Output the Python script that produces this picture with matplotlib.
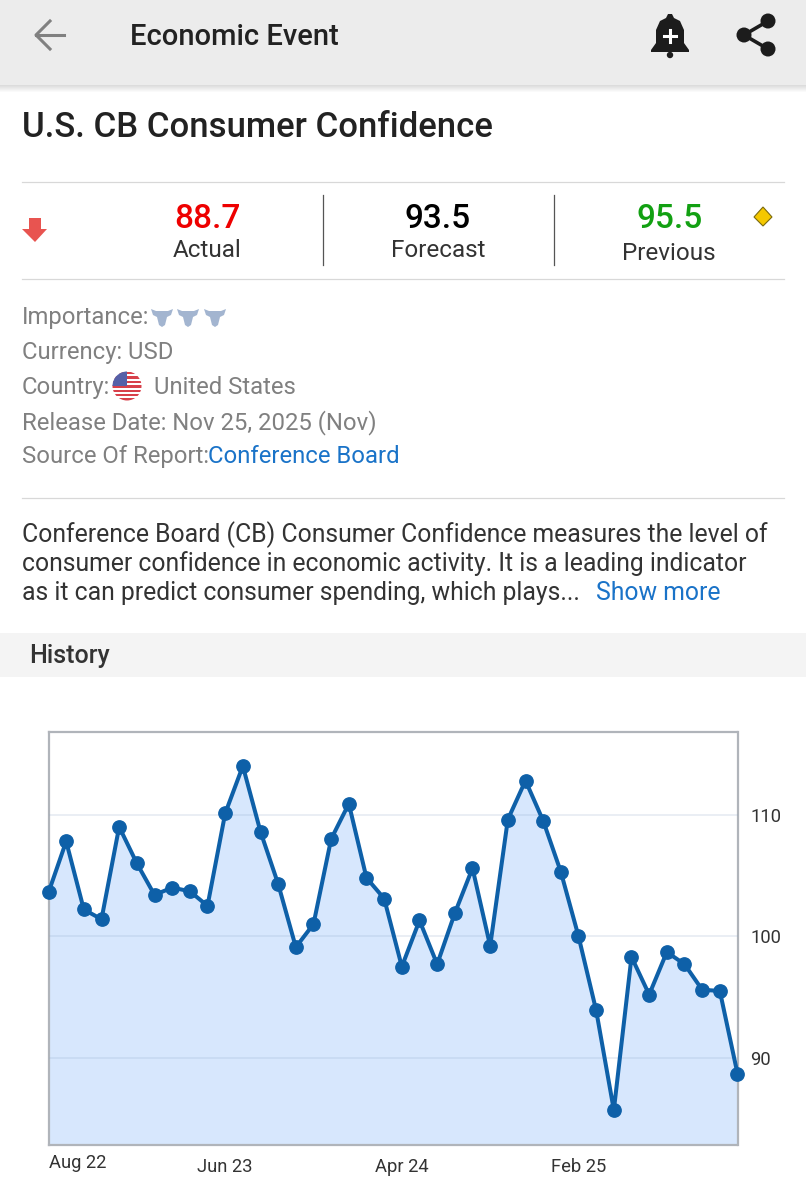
import matplotlib
matplotlib.use("Agg")
import matplotlib.pyplot as plt
import numpy as np
from matplotlib.patches import Circle, Polygon, Rectangle, FancyBboxPatch

plt.rcParams['font.family'] = ['Roboto', 'DejaVu Sans']

# dados
values = [103.6, 107.8, 102.2, 101.4, 109.0, 106.0, 103.4, 104.0, 103.7, 102.5,
          110.1, 114.0, 108.6, 104.3, 99.1, 101.0, 108.0, 110.9, 104.8, 103.1,
          97.5, 101.3, 97.7, 101.9, 105.6, 99.2, 109.6, 112.8, 109.5, 105.3,
          100.0, 93.9, 85.7, 98.3, 95.2, 98.7, 97.7, 95.6, 95.5, 88.7]
tick_idx = [10, 20, 30]
tick_labels = ["Jun 23", "Apr 24", "Feb 25"]
first_label = "Aug 22"
y_ticks = [90, 100, 110]

W, H = 806, 1192
fig = plt.figure(figsize=(W / 100, H / 100), dpi=100, facecolor="white")

# camada da interface, em pixels
ui = fig.add_axes([0, 0, 1, 1])
ui.set_xlim(0, W)
ui.set_ylim(H, 0)
ui.axis("off")


def txt(x, y, s, size, color="#222222", weight="normal", ha="left"):
    return ui.text(x, y, s, fontsize=size, color=color, fontweight=weight, ha=ha, va="baseline")


# barra superior
ui.add_patch(Rectangle((0, 0), W, 85, color="#ececec", lw=0))
shadow = np.linspace(0.86, 1, 8).reshape(-1, 1)
ui.imshow(shadow, extent=(0, W, 93, 85), cmap="gray", vmin=0, vmax=1, aspect="auto", zorder=1)
ui.set_xlim(0, W)
ui.set_ylim(H, 0)
ui.plot([36, 64], [35, 35], color="#808080", lw=2.2)
ui.plot([50, 36, 50], [21, 35, 49], color="#808080", lw=2.2)
txt(130, 45, "Economic Event", 21, "#222222", "medium")

# sino
bell = Polygon([(651, 50), (656, 43), (656, 30), (660, 21), (666, 18), (668, 14), (672, 14), (674, 18),
                (680, 21), (684, 30), (684, 43), (689, 50), (689, 52), (651, 52)],
               closed=True, color="#1c1c1c", lw=0)
ui.add_patch(bell)
ui.add_patch(Circle((670, 55), 3.2, color="#1c1c1c", lw=0))
ui.plot([664, 676], [36, 36], color="white", lw=2.2)
ui.plot([670, 670], [30, 42], color="white", lw=2.2)

# compartilhar
ui.plot([768, 744, 768], [21, 35, 49], color="#1c1c1c", lw=2.6)
for cx, cy in [(768, 21), (744, 35), (768, 49)]:
    ui.add_patch(Circle((cx, cy), 7.5, color="#1c1c1c", lw=0))

txt(22, 137, "U.S. CB Consumer Confidence", 25, "#222222", "medium")

# bloco de valores
ui.plot([22, 784], [181.5, 181.5], color="#d8d8d8", lw=0.9)
ui.plot([22, 784], [278.5, 278.5], color="#d8d8d8", lw=0.9)
ui.plot([322.5, 322.5], [195, 265], color="#555555", lw=0.9)
ui.plot([553.5, 553.5], [195, 265], color="#555555", lw=0.9)
ui.add_patch(Polygon([(29, 218), (41, 218), (41, 229), (47, 229), (35, 242), (22, 229), (29, 229)],
                     closed=True, color="#e85450", lw=0))
ui.add_patch(Polygon([(763, 207), (772, 217), (763, 226), (754, 217)], closed=True,
                     facecolor="#f5c800", edgecolor="#7a6a10", lw=0.8))
txt(207.5, 228, "88.7", 24, "#ee0000", "medium", "center")
txt(438, 228, "93.5", 24, "#000000", "medium", "center")
txt(670, 228, "95.5", 24, "#12a012", "medium", "center")
txt(207.5, 257, "Actual", 17.5, "#333333", "normal", "center")
txt(438, 257, "Forecast", 17.5, "#333333", "normal", "center")
txt(669, 260, "Previous", 17.5, "#333333", "normal", "center")

# detalhes
gray = "#808080"
txt(22, 324, "Importance:", 17.2, gray)
txt(22, 359, "Currency: USD", 17.2, gray)
txt(22, 394, "Country:", 17.2, gray)
txt(154, 394, "United States", 17.2, gray)
txt(22, 429, "Release Date: Nov 25, 2025 (Nov)", 17.2, gray)
t = txt(22, 463, "Source Of Report:", 17.2, gray)
txt(208, 463, "Conference Board", 17.2, "#1a73c8")

# icones de touro
for bx in [162, 188, 215]:
    ui.add_patch(Polygon([(bx - 11, 309), (bx - 6, 311), (bx + 6, 311), (bx + 11, 309), (bx + 9, 315),
                          (bx + 5, 317), (bx + 3, 325), (bx, 327), (bx - 3, 325), (bx - 5, 317),
                          (bx - 9, 315)], closed=True, color="#a3b5d0", lw=0))

# bandeira
flag_bg = Circle((127, 386), 14.5, color="white", lw=0)
ui.add_patch(flag_bg)
for i in range(7):
    s = Rectangle((112, 372 + i * 4.4), 30, 2.3, color="#d8404a", lw=0)
    ui.add_patch(s)
    s.set_clip_path(flag_bg)
canton = Rectangle((112, 371), 15, 15, color="#5560a8", lw=0)
ui.add_patch(canton)
canton.set_clip_path(flag_bg)

ui.plot([22, 784], [497.5, 497.5], color="#d8d8d8", lw=0.9)

# descricao
txt(22, 542, "Conference Board (CB) Consumer Confidence measures the level of", 17.8, "#333333")
txt(22, 571, "consumer confidence in economic activity. It is a leading indicator", 17.8, "#333333")
txt(22, 600, "as it can predict consumer spending, which plays...", 17.8, "#333333")
txt(596, 600, "Show more", 17.8, "#1a73c8")

ui.add_patch(Rectangle((0, 633), W, 44, color="#f4f4f4", lw=0))
txt(29, 663, "History", 18, "#333333", "medium")

# grafico
left, right, top, bottom = 48.5, 737.5, 731.5, 1145
ax = fig.add_axes([left / W, 1 - bottom / H, (right - left) / W, (bottom - top) / H])
x = np.arange(len(values))
ax.set_xlim(0, len(values) - 1)
ax.set_ylim(82.83, 116.84)
ax.fill_between(x, values, 82.83, color="#d7e7fd", lw=0, zorder=1)
ax.grid(axis="y", color="#8ea6c8", alpha=0.22, lw=1.2, zorder=2)
ax.set_axisbelow(False)
ax.plot(x, values, color="#0e60a8", lw=2.9, marker="o", ms=9.6, clip_on=False, zorder=5)

ax.set_yticks(y_ticks)
ax.yaxis.tick_right()
ax.tick_params(axis="y", length=0, pad=9, labelsize=13.2, labelcolor="#333333")
ax.set_xticks(tick_idx, tick_labels)
ax.tick_params(axis="x", length=0, pad=9, labelsize=13.2, labelcolor="#333333")
ax.text(0.05, -0.0425, first_label, transform=ax.get_xaxis_transform(), fontsize=13.2,
        color="#333333", ha="left", va="center")
for spine in ax.spines.values():
    spine.set_color("#b0b4ba")
    spine.set_linewidth(1.6)

fig.savefig("out.png", dpi=100)
